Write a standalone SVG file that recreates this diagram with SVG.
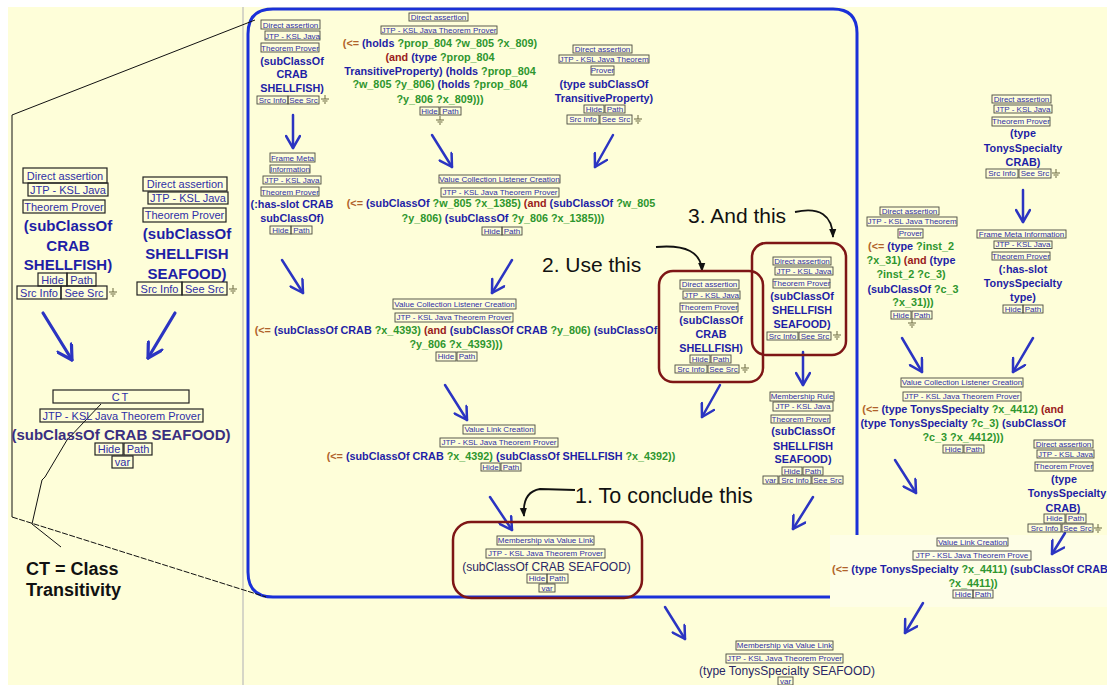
<svg xmlns="http://www.w3.org/2000/svg" width="1107" height="685" viewBox="0 0 1107 685">
<defs>
<style>
text{font-family:"Liberation Sans",Arial,sans-serif}
.l{font-size:8px;fill:#2f2fa6;text-anchor:middle}
.L{font-size:11px;fill:#2f2fa6;text-anchor:middle}
.k{fill:none;stroke:#4a4a40;stroke-width:0.9}
.K{fill:none;stroke:#222;stroke-width:1.2}
.t{font-size:10.8px;font-weight:bold;fill:#1e1ea6;text-anchor:middle}
.T{font-size:15px;font-weight:bold;fill:#1e1ea6;text-anchor:middle}
.g{fill:#2e962e}.r{fill:#9a1c1c}.o{fill:#b0622a}.n{fill:#1e1ea6}
.c{font-size:12px;fill:#2a2766;text-anchor:middle}
.ann{font-size:21px;fill:#111}
.arr{fill:none;stroke:#2b34c2;stroke-width:2.5;stroke-linecap:round;marker-end:url(#ah)}
.arrL{fill:none;stroke:#2b34c2;stroke-width:3.2;stroke-linecap:round;marker-end:url(#ahL)}
.red{fill:none;stroke:#7e1616;stroke-width:2.5}
.cur{fill:none;stroke:#111;stroke-width:1.8;marker-end:url(#bh)}
.zl{fill:none;stroke:#111;stroke-width:1}
</style>
<marker id="ah" viewBox="0 0 16 16" markerWidth="16" markerHeight="16" refX="14" refY="8" orient="auto" markerUnits="userSpaceOnUse"><path d="M2,1 L14,8 L2,15" fill="none" stroke="#2b34c2" stroke-width="2.5" stroke-linecap="round" stroke-linejoin="round"/></marker>
<marker id="ahL" viewBox="0 0 18 18" markerWidth="18" markerHeight="18" refX="16" refY="9" orient="auto" markerUnits="userSpaceOnUse"><path d="M2,1 L16,9 L2,17" fill="none" stroke="#2b34c2" stroke-width="3.2" stroke-linecap="round" stroke-linejoin="round"/></marker>
<marker id="bh" viewBox="0 0 10 10" markerWidth="9" markerHeight="9" refX="9" refY="5" orient="auto" markerUnits="userSpaceOnUse"><path d="M0,1 L10,5 L0,9 z" fill="#111"/></marker>
<g id="gnd"><path d="M0,-4 V0 M-4,0 H4 M-2.5,2 H2.5 M-1,4 H1" fill="none" stroke="#6b6840" stroke-width="1"/></g>
</defs>

<rect x="0" y="0" width="1107" height="685" fill="#ffffff"/>
<rect x="8" y="7" width="1099" height="678" fill="#fefed9"/>
<line x1="243" y1="7" x2="243" y2="685" stroke="#c8c8c0" stroke-width="1.5"/>
<path d="M830,597 L273,597 Q248,597 248,572 L248,34 Q248,9 273,9 L833,9 Q857,9 857,33 L857,535" fill="none" stroke="#1a30d8" stroke-width="3"/>
<rect x="830" y="535" width="277" height="72" fill="#fefee6"/>

<g id="decor">
<line class="zl" x1="12" y1="115" x2="255" y2="20"/>
<line class="zl" x1="12" y1="115" x2="12" y2="517" stroke-width="1.4"/>
<line class="zl" x1="12" y1="517" x2="266" y2="597" stroke-dasharray="6 1.5"/>
<path class="zl" d="M101,404 L67,440 L45,477 L42,480 L32,524 M32,524 L61,547"/>
</g>

<g id="connectors">
<path class="arrL" d="M43,313 L72,360"/>
<path class="arrL" d="M175,313 L148,358"/>
<path class="arr" d="M293,115 L293,148"/>
<path class="arr" d="M282,260 L303,293"/>
<path class="arr" d="M432,135 L452,167"/>
<path class="arr" d="M613,135 L595,167"/>
<path class="arr" d="M512,260 L492,293"/>
<path class="arr" d="M445,385 L467,420"/>
<path class="arr" d="M490,497 L512,530"/>
<path class="arr" d="M720,385 L702,417"/>
<path class="arr" d="M803,352 L803,385"/>
<path class="arr" d="M813,497 L793,529"/>
<path class="arr" d="M1023,190 L1023,222"/>
<path class="arr" d="M1033,338 L1013,372"/>
<path class="arr" d="M902,338 L922,372"/>
<path class="arr" d="M895,460 L916,493"/>
<path class="arr" d="M1065,533 L1052,554"/>
<path class="arr" d="M923,603 L905,633"/>
<path class="arr" d="M665,607 L685,639"/>
<path class="cur" d="M795,212 Q832,204 833,237"/>
<path class="cur" d="M656,247 Q701,243 702,271"/>
<path class="cur" d="M575,490 L540,489 Q522,492 524,516"/>
</g>

<g id="L1">
<rect class="K" x="23" y="168" width="84" height="15"/><text class="L" x="65" y="180">Direct assertion</text>
<rect class="K" x="28" y="183" width="80" height="13"/><text class="L" x="68" y="194">JTP - KSL Java</text>
<rect class="K" x="23" y="200" width="82" height="13"/><text class="L" x="64" y="211">Theorem Prover</text>
<text class="T" x="68" y="231">(subClassOf</text>
<text class="T" x="68" y="251">CRAB</text>
<text class="T" x="68" y="270">SHELLFISH)</text>
<rect class="K" x="38" y="273" width="29" height="13"/><text class="L" x="52.5" y="284">Hide</text>
<rect class="K" x="67" y="273" width="29" height="13"/><text class="L" x="81.5" y="284">Path</text>
<rect class="K" x="17" y="286" width="44" height="13"/><text class="L" x="39" y="297">Src Info</text>
<rect class="K" x="61" y="286" width="46" height="13"/><text class="L" x="84" y="297">See Src</text>
<use href="#gnd" x="113" y="292"/>
</g>

<g id="L2">
<rect class="K" x="143" y="177" width="84" height="14"/><text class="L" x="185" y="188">Direct assertion</text>
<rect class="K" x="148" y="192" width="80" height="12"/><text class="L" x="188" y="202">JTP - KSL Java</text>
<rect class="K" x="143" y="208" width="83" height="14"/><text class="L" x="184.5" y="219">Theorem Prover</text>
<text class="T" x="187" y="239">(subClassOf</text>
<text class="T" x="187" y="259">SHELLFISH</text>
<text class="T" x="187" y="279">SEAFOOD)</text>
<rect class="K" x="137" y="282" width="45" height="13"/><text class="L" x="159.5" y="293">Src Info</text>
<rect class="K" x="182" y="282" width="45" height="13"/><text class="L" x="204.5" y="293">See Src</text>
<use href="#gnd" x="233" y="289"/>
</g>

<g id="CT">
<rect class="K" x="53" y="390" width="136" height="13"/><text class="L" x="121" y="401" letter-spacing="2">CT</text>
<rect class="K" x="40" y="409" width="163" height="13"/><text class="L" x="121.5" y="419.5">JTP - KSL Java Theorem Prover</text>
<text class="T" x="121" y="440" style="fill:#3a2f80">(subClassOf CRAB SEAFOOD)</text>
<rect class="K" x="95" y="443" width="28" height="12"/><text class="L" x="109" y="453">Hide</text>
<rect class="K" x="124" y="443" width="28" height="12"/><text class="L" x="138" y="453">Path</text>
<rect class="K" x="112" y="456" width="21" height="12"/><text class="L" x="122.5" y="466">var</text>
</g>

<g id="N1">
<rect class="k" x="261" y="20" width="59" height="9"/><text class="l" x="290.5" y="27.5">Direct assertion</text>
<rect class="k" x="265" y="31" width="55" height="9"/><text class="l" x="292.5" y="38.5">JTP - KSL Java</text>
<rect class="k" x="261" y="43" width="58" height="9"/><text class="l" x="290" y="50.5">Theorem Prover</text>
<text class="t" x="292" y="65">(subClassOf</text>
<text class="t" x="292" y="78">CRAB</text>
<text class="t" x="292" y="92">SHELLFISH)</text>
<rect class="k" x="257" y="96" width="31" height="8"/><text class="l" x="272.5" y="102.5">Src Info</text>
<rect class="k" x="288" y="96" width="31" height="8"/><text class="l" x="303.5" y="102.5">See Src</text>
<use href="#gnd" x="325" y="99"/>
</g>

<g id="N2">
<rect class="k" x="270" y="153" width="45" height="9"/><text class="l" x="292.5" y="160.5">Frame Meta</text>
<rect class="k" x="270" y="165" width="40" height="8"/><text class="l" x="290" y="172">Information</text>
<rect class="k" x="263" y="176" width="58" height="8"/><text class="l" x="292" y="183">JTP - KSL Java</text>
<rect class="k" x="261" y="187" width="58" height="9"/><text class="l" x="290" y="194.5">Theorem Prover</text>
<text class="t" x="292" y="208">(:has-slot CRAB</text>
<text class="t" x="292" y="222">subClassOf)</text>
<rect class="k" x="270" y="226" width="21" height="8"/><text class="l" x="280.5" y="232.5">Hide</text>
<rect class="k" x="291" y="226" width="21" height="8"/><text class="l" x="301.5" y="232.5">Path</text>
</g>

<g id="N3">
<rect class="k" x="409" y="13" width="59" height="8"/><text class="l" x="438.5" y="19.5">Direct assertion</text>
<rect class="k" x="381" y="26" width="116" height="8"/><text class="l" x="439" y="32.5">JTP - KSL Java Theorem Prover</text>
<text class="t" x="440" y="47"><tspan class="o">(&lt;= </tspan><tspan class="n">(holds </tspan><tspan class="g">?prop_804 ?w_805 ?x_809)</tspan></text>
<text class="t" x="440" y="61"><tspan class="r">(and </tspan><tspan class="n">(type </tspan><tspan class="g">?prop_804</tspan></text>
<text class="t" x="440" y="75"><tspan class="n">TransitiveProperty) (holds </tspan><tspan class="g">?prop_804</tspan></text>
<text class="t" x="440" y="88"><tspan class="g">?w_805 ?y_806) </tspan><tspan class="n">(holds </tspan><tspan class="g">?prop_804</tspan></text>
<text class="t" x="440" y="103"><tspan class="g">?y_806 ?x_809)))</tspan></text>
<rect class="k" x="420" y="107" width="19" height="8"/><text class="l" x="429.5" y="113.5">Hide</text>
<rect class="k" x="440" y="107" width="21" height="8"/><text class="l" x="450.5" y="113.5">Path</text>
<use href="#gnd" x="440" y="120"/>
</g>

<g id="N4">
<rect class="k" x="573" y="45" width="59" height="8"/><text class="l" x="602.5" y="51.5">Direct assertion</text>
<rect class="k" x="559" y="55" width="90" height="8"/><text class="l" x="604" y="61.5">JTP - KSL Java Theorem</text>
<rect class="k" x="591" y="66" width="23" height="9"/><text class="l" x="602.5" y="73">Prover</text>
<text class="t" x="604" y="88">(type subClassOf</text>
<text class="t" x="604" y="102">TransitiveProperty)</text>
<rect class="k" x="584" y="105" width="20" height="8"/><text class="l" x="594" y="111.5">Hide</text>
<rect class="k" x="605" y="105" width="20" height="8"/><text class="l" x="615" y="111.5">Path</text>
<rect class="k" x="567" y="115" width="32" height="9"/><text class="l" x="583" y="122">Src Info</text>
<rect class="k" x="600" y="115" width="32" height="9"/><text class="l" x="616" y="122">See Src</text>
<use href="#gnd" x="638" y="119"/>
</g>

<g id="VCL1">
<rect class="k" x="439" y="175" width="121" height="8"/><text class="l" x="499.5" y="181.5">Value Collection Listener Creation</text>
<rect class="k" x="441" y="188" width="118" height="9"/><text class="l" x="500" y="195">JTP - KSL Java Theorem Prover</text>
<text class="t" x="501" y="207"><tspan class="o">(&lt;= </tspan><tspan class="n">(subClassOf </tspan><tspan class="g">?w_805 ?x_1385) </tspan><tspan class="r">(and </tspan><tspan class="n">(subClassOf </tspan><tspan class="g">?w_805</tspan></text>
<text class="t" x="503" y="222"><tspan class="g">?y_806) </tspan><tspan class="n">(subClassOf </tspan><tspan class="g">?y_806 ?x_1385)))</tspan></text>
<rect class="k" x="482" y="227" width="20" height="8"/><text class="l" x="492" y="233.5">Hide</text>
<rect class="k" x="502" y="227" width="20" height="8"/><text class="l" x="512" y="233.5">Path</text>
</g>

<g id="VCL2">
<rect class="k" x="393" y="299" width="123" height="10"/><text class="l" x="454.5" y="306.5">Value Collection Listener Creation</text>
<rect class="k" x="395" y="313" width="118" height="9"/><text class="l" x="454" y="320">JTP - KSL Java Theorem Prover</text>
<text class="t" x="456" y="334"><tspan class="o">(&lt;= </tspan><tspan class="n">(subClassOf CRAB </tspan><tspan class="g">?x_4393) </tspan><tspan class="r">(and </tspan><tspan class="n">(subClassOf CRAB </tspan><tspan class="g">?y_806) </tspan><tspan class="n">(subClassOf</tspan></text>
<text class="t" x="456" y="348"><tspan class="g">?y_806 ?x_4393)))</tspan></text>
<rect class="k" x="436" y="352" width="20" height="9"/><text class="l" x="446" y="359">Hide</text>
<rect class="k" x="457" y="352" width="20" height="9"/><text class="l" x="467" y="359">Path</text>
</g>

<g id="VLC1">
<rect class="k" x="463" y="425" width="72" height="9"/><text class="l" x="499" y="432">Value Link Creation</text>
<rect class="k" x="440" y="438" width="118" height="9"/><text class="l" x="499" y="445">JTP - KSL Java Theorem Prover</text>
<text class="t" x="501" y="460"><tspan class="o">(&lt;= </tspan><tspan class="n">(subClassOf CRAB </tspan><tspan class="g">?x_4392) </tspan><tspan class="n">(subClassOf SHELLFISH </tspan><tspan class="g">?x_4392))</tspan></text>
<rect class="k" x="481" y="463" width="19" height="8"/><text class="l" x="490.5" y="469.5">Hide</text>
<rect class="k" x="501" y="463" width="20" height="8"/><text class="l" x="511" y="469.5">Path</text>
</g>

<g id="MVL1">
<rect class="k" x="497" y="536" width="97" height="9"/><text class="l" x="545.5" y="543">Membership via Value Link</text>
<rect class="k" x="486" y="549" width="119" height="9"/><text class="l" x="545.5" y="556">JTP - KSL Java Theorem Prover</text>
<text class="c" x="546.5" y="571">(subClassOf CRAB SEAFOOD)</text>
<rect class="k" x="527" y="574" width="20" height="9"/><text class="l" x="537" y="581">Hide</text>
<rect class="k" x="547" y="574" width="21" height="9"/><text class="l" x="557.5" y="581">Path</text>
<rect class="k" x="539" y="584" width="16" height="8"/><text class="l" x="547" y="590.5">var</text>
</g>

<g id="N5">
<rect class="k" x="680" y="280" width="59" height="9"/><text class="l" x="709.5" y="287">Direct assertion</text>
<rect class="k" x="683" y="291" width="57" height="8"/><text class="l" x="711.5" y="297.5">JTP - KSL Java</text>
<rect class="k" x="680" y="303" width="58" height="9"/><text class="l" x="709" y="310">Theorem Prover</text>
<text class="t" x="711" y="324">(subClassOf</text>
<text class="t" x="711" y="338">CRAB</text>
<text class="t" x="711" y="352">SHELLFISH)</text>
<rect class="k" x="690" y="355" width="20" height="8"/><text class="l" x="700" y="361.5">Hide</text>
<rect class="k" x="711" y="355" width="20" height="8"/><text class="l" x="721" y="361.5">Path</text>
<rect class="k" x="675" y="365" width="32" height="8"/><text class="l" x="691" y="371.5">Src Info</text>
<rect class="k" x="708" y="365" width="31" height="8"/><text class="l" x="723.5" y="371.5">See Src</text>
<use href="#gnd" x="745" y="368"/>
</g>

<g id="N6">
<rect class="k" x="773" y="257" width="58" height="8"/><text class="l" x="802" y="263.5">Direct assertion</text>
<rect class="k" x="775" y="267" width="58" height="8"/><text class="l" x="804" y="273.5">JTP - KSL Java</text>
<rect class="k" x="773" y="279" width="57" height="9"/><text class="l" x="801.5" y="286">Theorem Prover</text>
<text class="t" x="802" y="300">(subClassOf</text>
<text class="t" x="802" y="314">SHELLFISH</text>
<text class="t" x="802" y="328">SEAFOOD)</text>
<rect class="k" x="767" y="332" width="31" height="8"/><text class="l" x="782.5" y="338.5">Src Info</text>
<rect class="k" x="799" y="332" width="32" height="8"/><text class="l" x="815" y="338.5">See Src</text>
<use href="#gnd" x="837" y="335"/>
</g>

<g id="MR">
<rect class="k" x="770" y="392" width="64" height="9"/><text class="l" x="802" y="399">Membership Rule</text>
<rect class="k" x="773" y="402" width="60" height="9"/><text class="l" x="803" y="409">JTP - KSL Java</text>
<rect class="k" x="771" y="415" width="59" height="8"/><text class="l" x="800.5" y="421.5">Theorem Prover</text>
<text class="t" x="803" y="435">(subClassOf</text>
<text class="t" x="803" y="450">SHELLFISH</text>
<text class="t" x="803" y="463">SEAFOOD)</text>
<rect class="k" x="782" y="467" width="20" height="8"/><text class="l" x="792" y="473.5">Hide</text>
<rect class="k" x="803" y="467" width="20" height="8"/><text class="l" x="813" y="473.5">Path</text>
<rect class="k" x="763" y="476" width="15" height="8"/><text class="l" x="770.5" y="482.5">var</text>
<rect class="k" x="779" y="476" width="32" height="8"/><text class="l" x="795" y="482.5">Src Info</text>
<rect class="k" x="812" y="476" width="31" height="8"/><text class="l" x="827.5" y="482.5">See Src</text>
</g>

<g id="R1">
<rect class="k" x="992" y="95" width="59" height="8"/><text class="l" x="1021.5" y="101.5">Direct assertion</text>
<rect class="k" x="994" y="105" width="58" height="8"/><text class="l" x="1023" y="111.5">JTP - KSL Java</text>
<rect class="k" x="992" y="117" width="58" height="9"/><text class="l" x="1021" y="124">Theorem Prover</text>
<text class="t" x="1023" y="137">(type</text>
<text class="t" x="1023" y="152">TonysSpecialty</text>
<text class="t" x="1023" y="166">CRAB)</text>
<rect class="k" x="986" y="169" width="32" height="9"/><text class="l" x="1002" y="176">Src Info</text>
<rect class="k" x="1019" y="169" width="32" height="9"/><text class="l" x="1035" y="176">See Src</text>
<use href="#gnd" x="1056" y="173"/>
</g>

<g id="R2">
<rect class="k" x="977" y="230" width="89" height="8"/><text class="l" x="1021.5" y="236.5">Frame Meta Information</text>
<rect class="k" x="994" y="241" width="58" height="7.5"/><text class="l" x="1023" y="247">JTP - KSL Java</text>
<rect class="k" x="992" y="252" width="58" height="8"/><text class="l" x="1021" y="258.5">Theorem Prover</text>
<text class="t" x="1023" y="273">(:has-slot</text>
<text class="t" x="1023" y="287">TonysSpecialty</text>
<text class="t" x="1023" y="301">type)</text>
<rect class="k" x="1003" y="305" width="20" height="8"/><text class="l" x="1013" y="311.5">Hide</text>
<rect class="k" x="1023" y="305" width="20" height="8"/><text class="l" x="1033" y="311.5">Path</text>
</g>

<g id="R3">
<rect class="k" x="880" y="207" width="59" height="8"/><text class="l" x="909.5" y="213.5">Direct assertion</text>
<rect class="k" x="867" y="217" width="90" height="9"/><text class="l" x="912" y="224">JTP - KSL Java Theorem</text>
<rect class="k" x="898" y="229" width="25" height="9"/><text class="l" x="910.5" y="236">Prover</text>
<text class="t" x="911" y="250"><tspan class="o">(&lt;= </tspan><tspan class="n">(type </tspan><tspan class="g">?inst_2</tspan></text>
<text class="t" x="911" y="264"><tspan class="g">?x_31) </tspan><tspan class="r">(and </tspan><tspan class="n">(type</tspan></text>
<text class="t" x="911" y="278"><tspan class="g">?inst_2 ?c_3)</tspan></text>
<text class="t" x="913" y="293"><tspan class="n">(subClassOf </tspan><tspan class="g">?c_3</tspan></text>
<text class="t" x="913" y="306"><tspan class="g">?x_31)))</tspan></text>
<rect class="k" x="891" y="311" width="20" height="8"/><text class="l" x="901" y="317.5">Hide</text>
<rect class="k" x="912" y="311" width="20" height="8"/><text class="l" x="922" y="317.5">Path</text>
<use href="#gnd" x="912" y="323"/>
</g>

<g id="VCL3">
<rect class="k" x="901" y="378" width="122" height="9"/><text class="l" x="962" y="385">Value Collection Listener Creation</text>
<rect class="k" x="903" y="392" width="118" height="9"/><text class="l" x="962" y="399">JTP - KSL Java Theorem Prover</text>
<text class="t" x="963" y="413"><tspan class="o">(&lt;= </tspan><tspan class="n">(type TonysSpecialty </tspan><tspan class="g">?x_4412) </tspan><tspan class="r">(and</tspan></text>
<text class="t" x="963" y="427"><tspan class="n">(type TonysSpecialty </tspan><tspan class="g">?c_3) </tspan><tspan class="n">(subClassOf</tspan></text>
<text class="t" x="963" y="441"><tspan class="g">?c_3 ?x_4412)))</tspan></text>
<rect class="k" x="943" y="445" width="20" height="8"/><text class="l" x="953" y="451.5">Hide</text>
<rect class="k" x="964" y="445" width="20" height="8"/><text class="l" x="974" y="451.5">Path</text>
</g>

<g id="R4">
<rect class="k" x="1034" y="440" width="59" height="8"/><text class="l" x="1063.5" y="446.5">Direct assertion</text>
<rect class="k" x="1037" y="450" width="57" height="8"/><text class="l" x="1065.5" y="456.5">JTP - KSL Java</text>
<rect class="k" x="1035" y="462" width="58" height="9"/><text class="l" x="1064" y="469">Theorem Prover</text>
<text class="t" x="1064" y="483">(type</text>
<text class="t" x="1067" y="497">TonysSpecialty</text>
<text class="t" x="1063" y="512">CRAB)</text>
<rect class="k" x="1044" y="514" width="21" height="9"/><text class="l" x="1054.5" y="521">Hide</text>
<rect class="k" x="1066" y="514" width="20" height="9"/><text class="l" x="1076" y="521">Path</text>
<rect class="k" x="1028" y="524" width="33" height="8"/><text class="l" x="1044.5" y="530.5">Src Info</text>
<rect class="k" x="1062" y="524" width="31" height="8"/><text class="l" x="1077.5" y="530.5">See Src</text>
<use href="#gnd" x="1098" y="528"/>
</g>

<g id="VLC2">
<rect class="k" x="937" y="538" width="71" height="8"/><text class="l" x="972.5" y="544.5">Value Link Creation</text>
<rect class="k" x="913" y="551" width="118" height="9"/><text class="l" x="972" y="558">JTP - KSL Java Theorem Prove</text>
<text class="t" x="970" y="573"><tspan class="o">(&lt;= </tspan><tspan class="n">(type TonysSpecialty </tspan><tspan class="g">?x_4411) </tspan><tspan class="n">(subClassOf CRAB</tspan></text>
<text class="t" x="973" y="587"><tspan class="g">?x_4411))</tspan></text>
<rect class="k" x="953" y="590" width="20" height="8"/><text class="l" x="963" y="596.5">Hide</text>
<rect class="k" x="973" y="590" width="20" height="8"/><text class="l" x="983" y="596.5">Path</text>
</g>

<g id="MVL2">
<rect class="k" x="736" y="641" width="97" height="9"/><text class="l" x="784.5" y="648">Membership via Value Link</text>
<rect class="k" x="726" y="654" width="117" height="9"/><text class="l" x="784.5" y="661">JTP - KSL Java Theorem Prover</text>
<text class="c" x="787" y="675">(type TonysSpecialty SEAFOOD)</text>
<rect class="k" x="778" y="677" width="15" height="8"/><text class="l" x="785.5" y="684">var</text>
</g>

<g id="highlights">
<rect class="red" x="659" y="271" width="104" height="111" rx="14"/>
<rect class="red" x="752" y="243" width="94" height="112" rx="14"/>
<rect class="red" x="453" y="522" width="189" height="76" rx="18"/>
</g>

<g id="annotations">
<text class="ann" x="688" y="223">3. And this</text>
<text class="ann" x="542" y="272">2. Use this</text>
<text class="ann" x="575" y="503" style="font-size:21.5px">1. To conclude this</text>
<text x="26" y="575" style="font-size:18px;font-weight:bold;fill:#111">CT = Class</text>
<text x="26" y="596" style="font-size:18px;font-weight:bold;fill:#111">Transitivity</text>
</g>
</svg>
